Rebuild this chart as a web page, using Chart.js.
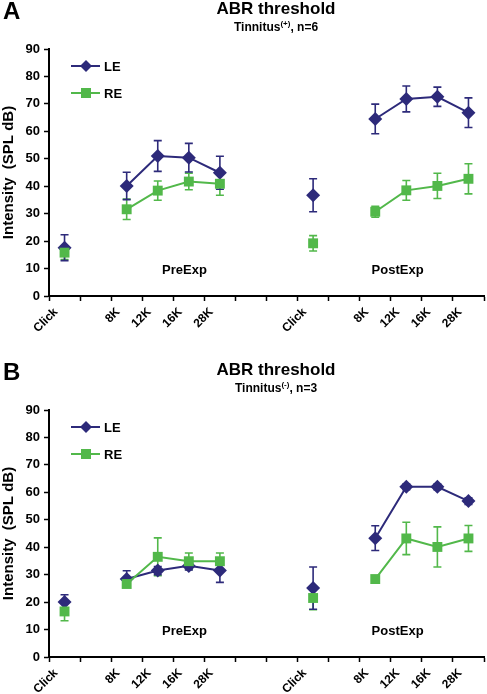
<!DOCTYPE html>
<html>
<head>
<meta charset="utf-8">
<script src="https://cdn.jsdelivr.net/npm/chart.js@4/dist/chart.umd.min.js"></script>
<style>
  html, body { margin: 0; padding: 0; background: #fff; overflow: hidden; }
  .panel { position: relative; width: 487px; height: 361px; overflow: hidden; }
</style>
</head>
<body>
<div class="panel"><canvas id="chartA" width="491" height="361"></canvas></div>
<div class="panel"><canvas id="chartB" width="491" height="361"></canvas></div>
<script>
// x axis: 15 tick marks, the data sits in the 14 slots between them
const tickLabels = ['Click', '', '8K', '12K', '16K', '28K', '', '', 'Click', '', '8K', '12K', '16K', '28K', ''];
const yTicks = [0, 10, 20, 30, 40, 50, 60, 70, 80, 90];

// Panel A - Tinnitus(+), n=6
const leA    = [17.6, null, 40.1, 51.0, 50.4, 44.9, null, null, 36.7, null, 64.5, 71.8, 72.6, 66.8];
const leAErr = [4.7, null, 5.0, 5.6, 5.2, 6.0, null, null, 6.0, null, 5.4, 4.7, 3.5, 5.4];
const reA    = [15.8, null, 31.6, 38.4, 41.7, 40.9, null, null, 19.2, null, 30.7, 38.5, 40.1, 42.7];
const reAErr = [2.5, null, 3.7, 3.5, 3.0, 4.2, null, null, 2.8, null, 2.0, 3.6, 4.6, 5.5];

// Panel B - Tinnitus(-), n=3
const leB    = [20.0, null, 28.4, 31.5, 33.2, 31.5, null, null, 25.1, null, 43.3, 62.0, 62.0, 56.8];
const leBErr = [2.7, null, 3.0, 1.5, 1.5, 4.3, null, null, 7.7, null, 4.5, 1.0, 1.0, 1.2];
const reB    = [16.6, null, 26.6, 36.5, 34.9, 34.9, null, null, 21.5, null, 28.4, 43.2, 40.1, 43.2];
const reBErr = [3.4, null, 1.0, 6.9, 3.0, 3.0, null, null, 4.3, null, 1.0, 5.9, 7.3, 4.7];

const LE_COLOR = '#2d2a7a';
const RE_COLOR = '#52b84a';
const FONT = "'Liberation Sans', Arial, sans-serif";

// slot i is drawn halfway between tick i and tick i+1
function toPoints(values) {
    return values.map((v, i) => ({ x: i + 0.5, y: v }));
}

// error bars + text on top of the chart
const extrasPlugin = {
    id: 'extras',
    beforeDatasetsDraw(chart) {
        const ctx = chart.ctx;
        const xs = chart.scales.x, ys = chart.scales.y;
        chart.data.datasets.forEach(ds => {
            ctx.save();
            ctx.strokeStyle = ds.borderColor;
            ctx.lineWidth = 1.6;
            ds.errors.forEach((e, i) => {
                const v = ds.data[i].y;
                if (v === null || e === null) return;
                const x = xs.getPixelForValue(ds.data[i].x);
                const yTop = ys.getPixelForValue(v + e);
                const yBot = ys.getPixelForValue(v - e);
                ctx.beginPath();
                ctx.moveTo(x, yTop); ctx.lineTo(x, yBot);
                ctx.moveTo(x - 4, yTop); ctx.lineTo(x + 4, yTop);
                ctx.moveTo(x - 4, yBot); ctx.lineTo(x + 4, yBot);
                ctx.stroke();
            });
            ctx.restore();
        });
    },
    afterDraw(chart) {
        const ctx = chart.ctx;
        const opts = chart.options.plugins.extras;
        const area = chart.chartArea;
        const xs = chart.scales.x, ys = chart.scales.y;
        ctx.save();
        ctx.fillStyle = '#000';

        // panel letter
        ctx.font = 'bold 24px ' + FONT;
        ctx.textAlign = 'left';
        ctx.textBaseline = 'alphabetic';
        ctx.fillText(opts.letter, 3, 19);

        // title
        ctx.font = 'bold 17px ' + FONT;
        ctx.textAlign = 'center';
        ctx.fillText('ABR threshold', 276, 14);

        // subtitle with superscript
        const parts = [
            { t: 'Tinnitus', f: 'bold 12px ' + FONT, dy: 0 },
            { t: opts.sup, f: 'bold 8px ' + FONT, dy: -5 },
            { t: ', n=' + opts.n, f: 'bold 12px ' + FONT, dy: 0 }
        ];
        let total = 0;
        parts.forEach(p => { ctx.font = p.f; p.w = ctx.measureText(p.t).width; total += p.w; });
        let x0 = 276 - total / 2;
        ctx.textAlign = 'left';
        parts.forEach(p => { ctx.font = p.f; ctx.fillText(p.t, x0, 31 + p.dy); x0 += p.w; });

        // PreExp / PostExp
        ctx.font = 'bold 13px ' + FONT;
        ctx.textAlign = 'center';
        ctx.fillText('PreExp', xs.getPixelForValue(4.36), ys.getPixelForValue(8));
        ctx.fillText('PostExp', xs.getPixelForValue(11.22), ys.getPixelForValue(8));

        // legend
        const items = [
            { label: 'LE', color: LE_COLOR, style: 'diamond', dy: 17 },
            { label: 'RE', color: RE_COLOR, style: 'square', dy: 44 }
        ];
        items.forEach(it => {
            const y = area.top + it.dy;
            const lx = area.left + 22;
            ctx.strokeStyle = it.color;
            ctx.fillStyle = it.color;
            ctx.lineWidth = 2;
            ctx.beginPath();
            ctx.moveTo(lx, y); ctx.lineTo(lx + 29, y);
            ctx.stroke();
            const cx = lx + 15;
            ctx.beginPath();
            if (it.style === 'diamond') {
                ctx.moveTo(cx, y - 6); ctx.lineTo(cx + 6, y); ctx.lineTo(cx, y + 6); ctx.lineTo(cx - 6, y);
                ctx.closePath();
            } else {
                ctx.rect(cx - 5, y - 5, 10, 10);
            }
            ctx.fill();
            ctx.fillStyle = '#000';
            ctx.font = 'bold 13px ' + FONT;
            ctx.textAlign = 'left';
            ctx.textBaseline = 'middle';
            ctx.fillText(it.label, lx + 33, y + 1);
            ctx.textBaseline = 'alphabetic';
        });
        ctx.restore();
    }
};

function makeChart(id, letter, sup, n, le, leErr, re, reErr) {
    return new Chart(document.getElementById(id), {
        type: 'line',
        data: {
            datasets: [
                {
                    label: 'RE',
                    data: toPoints(re),
                    errors: reErr,
                    borderColor: RE_COLOR,
                    backgroundColor: RE_COLOR,
                    borderWidth: 2,
                    pointStyle: 'rect',
                    pointRadius: 7,
                    pointBorderWidth: 0,
                    spanGaps: false,
                    order: 0
                },
                {
                    label: 'LE',
                    data: toPoints(le),
                    errors: leErr,
                    borderColor: LE_COLOR,
                    backgroundColor: LE_COLOR,
                    borderWidth: 2,
                    pointStyle: 'rectRot',
                    pointRadius: 7,
                    pointBorderWidth: 0,
                    spanGaps: false,
                    order: 1
                }
            ]
        },
        options: {
            responsive: false,
            animation: false,
            layout: { padding: { top: 49, right: 0, left: 0, bottom: 0 } },
            plugins: {
                legend: { display: false },
                tooltip: { enabled: false },
                extras: { letter: letter, sup: sup, n: n }
            },
            scales: {
                x: {
                    type: 'linear',
                    min: 0,
                    max: 14,
                    afterFit: s => { s.height = 65; s.paddingRight = 0; s.paddingLeft = 0; },
                    afterBuildTicks: s => { s.ticks = tickLabels.map((_, i) => ({ value: i })); },
                    ticks: {
                        autoSkip: false,
                        maxRotation: 45,
                        minRotation: 45,
                        labelOffset: 7,
                        padding: 4,
                        color: '#000',
                        font: { family: FONT, size: 12, weight: 'bold' },
                        callback: v => tickLabels[v]
                    },
                    grid: { drawOnChartArea: false, drawTicks: true, tickLength: 5, tickWidth: 1.5, tickColor: '#000' },
                    border: { color: '#000', width: 2 }
                },
                y: {
                    min: 0,
                    max: 90,
                    afterFit: s => { s.width = 49; },
                    afterBuildTicks: s => { s.ticks = yTicks.map(v => ({ value: v })); },
                    ticks: {
                        padding: 4,
                        color: '#000',
                        font: { family: FONT, size: 13, weight: 'bold' }
                    },
                    grid: { drawOnChartArea: false, drawTicks: true, tickLength: 5, tickWidth: 1.5, tickColor: '#000' },
                    border: { color: '#000', width: 2 },
                    title: {
                        display: true,
                        text: 'Intensity  (SPL dB)',
                        color: '#000',
                        padding: { top: 0, bottom: 0 },
                        font: { family: FONT, size: 15, weight: 'bold' }
                    }
                }
            }
        },
        plugins: [extrasPlugin]
    });
}

makeChart('chartA', 'A', '(+)', 6, leA, leAErr, reA, reAErr);
makeChart('chartB', 'B', '(-)', 3, leB, leBErr, reB, reBErr);
</script>
</body>
</html>
